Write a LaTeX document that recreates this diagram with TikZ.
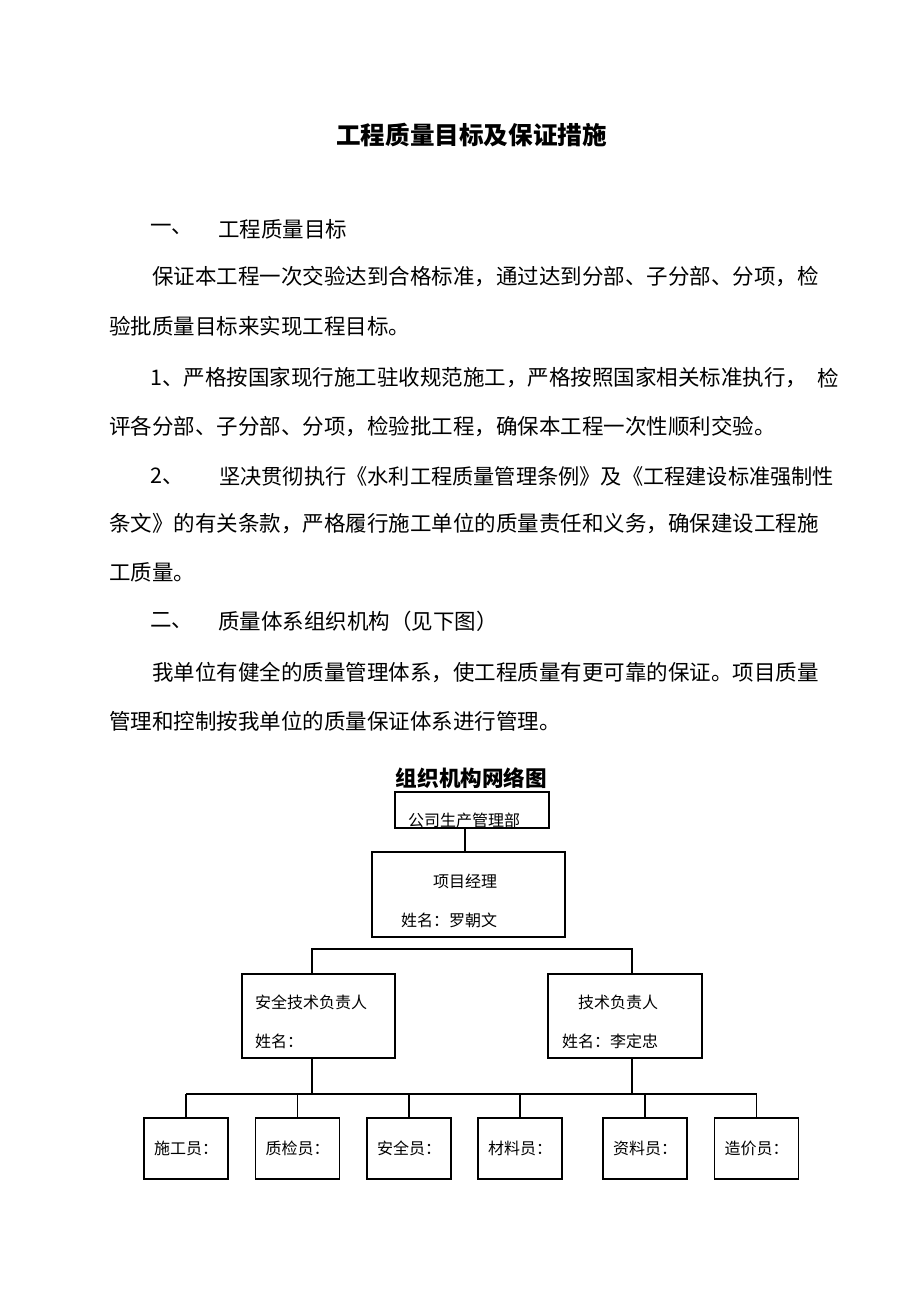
\documentclass[tikz,border=0pt]{standalone}
\usepackage{fontspec}
\setmainfont{Noto Sans CJK SC}
\begin{document}
\begin{tikzpicture}[x=1pt,y=-1pt,
  body/.style={anchor=west, inner sep=0pt, font=\fontsize{21.5}{26}\selectfont},
  boxtext/.style={anchor=west, inner sep=0pt, font=\fontsize{16}{19}\selectfont},
  box/.style={draw, line width=1.4pt, inner sep=0pt},
  small/.style={box, minimum width=84pt, minimum height=61pt, font=\fontsize{16}{19}\selectfont},
  conn/.style={line width=1.4pt}]
\useasboundingbox[fill=white] (0,0) rectangle (920,1302);

% title
\node[inner sep=0pt, font=\fontsize{24.6}{28}\selectfont\bfseries] (title) at (471.5,135) {工程质量目标及保证措施};

% body text
\node[body] (h1a) at (150,229) {一、};
\node[body] (h1b) at (218,229) {工程质量目标};
\node[body] (p1) at (152,277) {保证本工程一次交验达到合格标准，通过达到分部、子分部、分项，检};
\node[body] (p2) at (109,326) {验批质量目标来实现工程目标。};
\node[body] (p3) at (150,378) {1、严格按国家现行施工驻收规范施工，严格按照国家相关标准执行，};
\node[body] (p3b) at (817,378) {检};
\node[body] (p4) at (109,427) {评各分部、子分部、分项，检验批工程，确保本工程一次性顺利交验。};
\node[body] (p5a) at (150,476) {2、};
\node[body, font=\fontsize{21.2}{26}\selectfont] (p5b) at (219,476) {坚决贯彻执行《水利工程质量管理条例》及《工程建设标准强制性};
\node[body] (p6) at (109,524) {条文》的有关条款，严格履行施工单位的质量责任和义务，确保建设工程施};
\node[body] (p7) at (109,572) {工质量。};
\node[body] (h2a) at (150,621) {二、};
\node[body] (h2b) at (218,621) {质量体系组织机构（见下图）};
\node[body] (p8) at (152,672) {我单位有健全的质量管理体系，使工程质量有更可靠的保证。项目质量};
\node[body] (p9) at (109,721) {管理和控制按我单位的质量保证体系进行管理。};

% chart title
\node[inner sep=0pt, font=\fontsize{21.6}{26}\selectfont\bfseries] (ctitle) at (471.5,778) {组织机构网络图};

% boxes
\node[box, minimum width=154pt, minimum height=36pt] (b1) at (472,810) {};
\node[boxtext] (b1t) at (408,820) {公司生产管理部};
\node[box, minimum width=193pt, minimum height=85pt] (b2) at (468.5,894.5) {};
\node[boxtext] (b2t) at (433,881) {项目经理};
\node[boxtext] (b2n) at (401,920) {姓名：罗朝文};
\node[box, minimum width=153pt, minimum height=84pt] (b3) at (318.5,1016) {};
\node[boxtext] (b3t) at (255,1002) {安全技术负责人};
\node[boxtext] (b3n) at (255,1041) {姓名：};
\node[box, minimum width=154pt, minimum height=84pt] (b4) at (625,1016) {};
\node[boxtext] (b4t) at (578,1002) {技术负责人};
\node[boxtext] (b4n) at (562,1041) {姓名：李定忠};

\node[small] (s1) at (186,1148.5) {施工员：};
\node[small] (s2) at (297.5,1148.5) {质检员：};
\node[small] (s3) at (409,1148.5) {安全员：};
\node[small] (s4) at (520,1148.5) {材料员：};
\node[small] (s5) at (645,1148.5) {资料员：};
\node[small] (s6) at (756.5,1148.5) {造价员：};

% connectors
\coordinate (cA) at (465,0);
\coordinate (busL) at (312,949);
\coordinate (busR) at (632,949);
\coordinate (bbus) at (0,1094);
\draw[conn] (b1.south -| cA) -- (b2.north -| cA);
\draw[conn] (b3.north -| busL) -- (busL) -- (busR) -- (b4.north -| busR);
\draw[conn] (b3.south -| busL) -- (busL |- bbus);
\draw[conn] (b4.south -| busR) -- (busR |- bbus);
\draw[conn] (s1.north |- bbus) -- (s6.north |- bbus);
\foreach \i in {1,...,6} \draw[conn] (s\i.north) -- (s\i.north |- bbus);
\end{tikzpicture}
\end{document}
